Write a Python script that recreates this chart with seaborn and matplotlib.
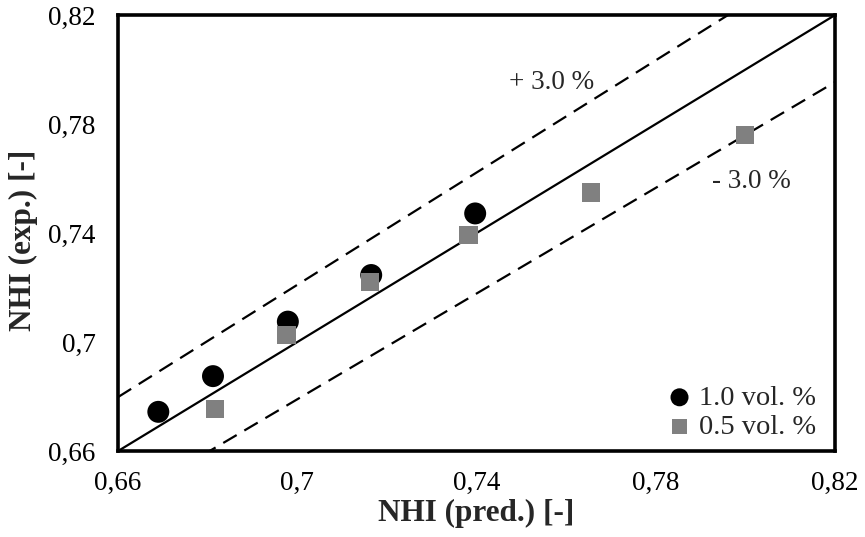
import numpy as np
import pandas as pd
import matplotlib
matplotlib.use("Agg")
import matplotlib.pyplot as plt
from matplotlib.ticker import FuncFormatter
import seaborn as sns

# data
pred_10 = [0.6690, 0.6812, 0.6979, 0.7165, 0.7397]
exp_10 = [0.6744, 0.6875, 0.7075, 0.7246, 0.7472]
pred_05 = [0.6816, 0.6976, 0.7163, 0.7382, 0.7655, 0.7999]
exp_05 = [0.6753, 0.7026, 0.7221, 0.7393, 0.7549, 0.7760]
ticks = [0.66, 0.70, 0.74, 0.78, 0.82]
band = 0.03

sns.set_style("white")
plt.rcParams['font.family'] = ['Liberation Serif', 'DejaVu Serif']

fig = plt.figure(figsize=(8.65, 5.37), dpi=100)
ax = fig.add_axes([0.1364, 0.160, 0.829, 0.812])

line_x = np.array([ticks[0], ticks[-1]])
ax.plot(line_x, line_x, color="black", lw=1.6, zorder=1)
ax.plot(line_x, line_x * (1 + band), color="black", lw=1.6, dashes=(7, 4), zorder=1)
ax.plot(line_x, line_x * (1 - band), color="black", lw=1.6, dashes=(7, 4), zorder=1)

df10 = pd.DataFrame({"pred": pred_10, "exp": exp_10})
df05 = pd.DataFrame({"pred": pred_05, "exp": exp_05})
sns.scatterplot(data=df10, x="pred", y="exp", ax=ax, marker="o", s=250,
                color="black", edgecolor="none", label="1.0 vol. %", zorder=3)
sns.scatterplot(data=df05, x="pred", y="exp", ax=ax, marker="s", s=170,
                color="#808080", edgecolor="none", label="0.5 vol. %", zorder=4)

ax.text(0.7567, 0.7952, "+ 3.0 %", fontsize=19.5, ha="center", va="center")
ax.text(0.8014, 0.7590, "- 3.0 %", fontsize=19.5, ha="center", va="center")

ax.set_xlim(ticks[0], ticks[-1])
ax.set_ylim(ticks[0], ticks[-1])
ax.set_xticks(ticks)
ax.set_yticks(ticks)
fmt = FuncFormatter(lambda v, p: f"{v:g}".replace(".", ","))
ax.xaxis.set_major_formatter(fmt)
ax.yaxis.set_major_formatter(fmt)
ax.tick_params(direction="in", length=7, width=2.2, labelsize=19.5,
               colors="black")
ax.tick_params(axis="x", pad=14)
ax.tick_params(axis="y", pad=16)
for sp in ax.spines.values():
    sp.set_linewidth(2.6)
    sp.set_color("black")

ax.set_xlabel("NHI (pred.) [-]", fontsize=22.5, fontweight="bold")
ax.set_ylabel("NHI (exp.) [-]", fontsize=22.5, fontweight="bold")
ax.xaxis.set_label_coords(0.5, -0.11)
ax.yaxis.set_label_coords(-0.111, 0.484)

ax.legend(loc="lower right", bbox_to_anchor=(1.0, -0.016), frameon=False,
          fontsize=20.5, handlelength=1.0, handletextpad=0.2,
          labelspacing=0.1, borderaxespad=0.45, markerscale=0.82,
          borderpad=0.2)

fig.savefig("out.png", dpi=100)
